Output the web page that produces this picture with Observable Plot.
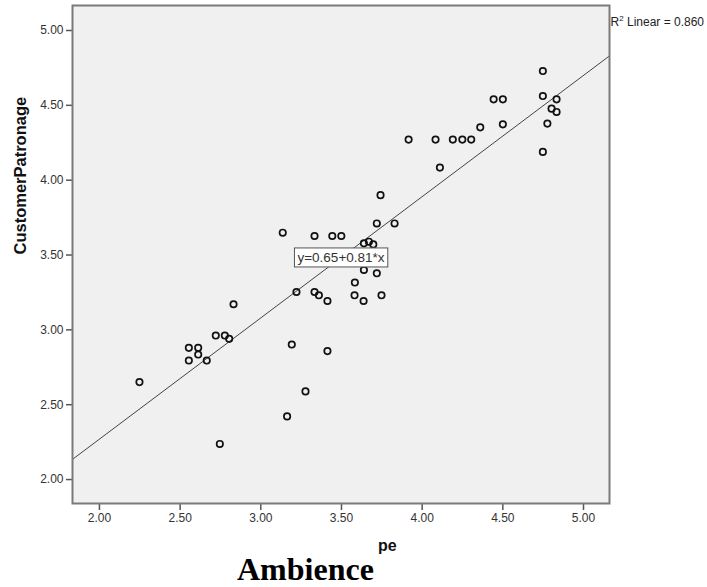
<!DOCTYPE html>
<html>
<head>
<meta charset="utf-8">
<script src="https://cdn.jsdelivr.net/npm/d3@7"></script>
<script src="https://cdn.jsdelivr.net/npm/@observablehq/plot@0.6"></script>
<style>
  html, body { margin: 0; padding: 0; background: #fff; }
  #wrap { position: relative; width: 707px; height: 587px; overflow: hidden; }
  #xlab { position: absolute; left: 378px; top: 537px; font: bold 16px 'Liberation Sans', Arial, sans-serif; color: #111; }
  #caption { position: absolute; left: 237px; top: 553px; height: 32px; font: bold 32px/32px 'Liberation Serif', 'Times New Roman', serif; color: #000; white-space: nowrap; }
</style>
</head>
<body>
<div id="wrap"></div>
<script>
// ---- data ----
const ambience = [2.248, 2.554, 2.612, 2.554, 2.612, 2.665, 2.721, 2.777, 2.804, 2.831,
  2.746, 3.136, 3.333, 3.443, 3.499, 3.719, 3.829, 3.639, 3.670, 3.697,
  3.639, 3.719, 3.583, 3.581, 3.637, 3.748, 3.221, 3.333, 3.360, 3.413,
  3.192, 3.413, 3.277, 3.163, 3.742, 3.916, 4.083, 4.190, 4.249, 4.304,
  4.360, 4.443, 4.500, 4.500, 4.110, 4.748, 4.748, 4.748, 4.833, 4.802,
  4.833, 4.776];
const patronage = [2.651, 2.880, 2.880, 2.795, 2.835, 2.795, 2.962, 2.962, 2.940, 3.171,
  2.238, 3.649, 3.627, 3.627, 3.627, 3.711, 3.711, 3.578, 3.589, 3.571,
  3.400, 3.378, 3.316, 3.231, 3.193, 3.231, 3.253, 3.253, 3.231, 3.193,
  2.902, 2.858, 2.589, 2.422, 3.900, 4.271, 4.271, 4.271, 4.271, 4.271,
  4.353, 4.540, 4.540, 4.373, 4.084, 4.729, 4.562, 4.189, 4.540, 4.478,
  4.456, 4.378];
const xDomain = [1.833, 5.161];
const yDomain = [1.84, 5.167];
const xTicks = [2.0, 2.5, 3.0, 3.5, 4.0, 4.5, 5.0];
const yTicks = [2.0, 2.5, 3.0, 3.5, 4.0, 4.5, 5.0];
const fitIntercept = 0.65;
const fitSlope = 0.81;
const fitLabel = "y=0.65+0.81*x";
const r2Parts = ["R", "2", " Linear = 0.860"];
const yLabel = "CustomerPatronage";
const xLabelVisible = "pe";
const captionText = "Ambience";

// ---- tables built from the arrays ----
const points = ambience.map((x, i) => ({x, y: patronage[i]}));
const fitLine = xDomain.map(x => ({x, y: fitIntercept + fitSlope * x}));
const mid = (xDomain[0] + xDomain[1]) / 2;
const fitText = [{x: mid, y: fitIntercept + fitSlope * mid, text: fitLabel}];
const r2Text = r2Parts.join("");
const fmt = d3.format(".2f");

const chart = Plot.plot({
  width: 707,
  height: 587,
  marginLeft: 72,
  marginTop: 5,
  marginRight: 98,
  marginBottom: 84,
  style: {fontFamily: "'Liberation Sans', Arial, sans-serif", fontSize: "12px", background: "#fff", color: "#333"},
  x: {domain: xDomain},
  y: {domain: yDomain},
  marks: [
    Plot.frame({fill: "#f0f0f0", stroke: null}),
    Plot.axisX({ticks: xTicks, tickFormat: fmt, tickSize: 7, tickPadding: 3, stroke: "#555", strokeWidth: 1.5, label: null, fontSize: 12, fill: "#333"}),
    Plot.axisY({ticks: yTicks, tickFormat: fmt, tickSize: 6, tickPadding: 3, stroke: "#555", strokeWidth: 1.5, label: null, fontSize: 12, fill: "#333"}),
    Plot.line(fitLine, {x: "x", y: "y", stroke: "#444", strokeWidth: 1}),
    Plot.dot(points, {x: "x", y: "y", r: 3.2, stroke: "#111", strokeWidth: 1.7, fill: "none"}),
    Plot.frame({stroke: "#7a7a7a", strokeWidth: 2}),
    Plot.text(fitText, {x: "x", y: "y", text: "text", fontSize: 13.5, fill: "#333"}),
    Plot.text([r2Text], {frameAnchor: "top-right", textAnchor: "start", dx: 1, dy: 12, fontSize: 12, fill: "#222"}),
    Plot.text([yLabel], {frameAnchor: "left", rotate: -90, dx: -52, fontSize: 16.5, fontWeight: "bold", fill: "#111"})
  ]
});

const wrap = document.getElementById("wrap");
wrap.appendChild(chart);

// white box behind the fit equation
d3.select(chart).selectAll("text").filter(function() { return this.textContent === fitLabel; }).each(function() {
  const bb = this.getBBox();
  const rect = document.createElementNS("http://www.w3.org/2000/svg", "rect");
  rect.setAttribute("x", bb.x - 3);
  rect.setAttribute("y", bb.y - 2);
  rect.setAttribute("width", bb.width + 6);
  rect.setAttribute("height", bb.height + 4);
  rect.setAttribute("fill", "#fff");
  rect.setAttribute("stroke", "#555");
  rect.setAttribute("stroke-width", "1");
  const t = this.getAttribute("transform");
  if (t) rect.setAttribute("transform", t);
  this.parentNode.insertBefore(rect, this);
});

// superscript in R² label
d3.select(chart).selectAll("text").filter(function() { return this.textContent === r2Text; }).each(function() {
  const el = d3.select(this);
  el.text(null);
  el.append("tspan").text(r2Parts[0]);
  el.append("tspan").attr("dy", -5).attr("font-size", 8).text(r2Parts[1]);
  el.append("tspan").attr("dy", 5).text(r2Parts[2]);
});

const xl = document.createElement("div");
xl.id = "xlab";
xl.textContent = xLabelVisible;
wrap.appendChild(xl);
const cap = document.createElement("div");
cap.id = "caption";
cap.textContent = captionText;
wrap.appendChild(cap);
</script>
</body>
</html>
